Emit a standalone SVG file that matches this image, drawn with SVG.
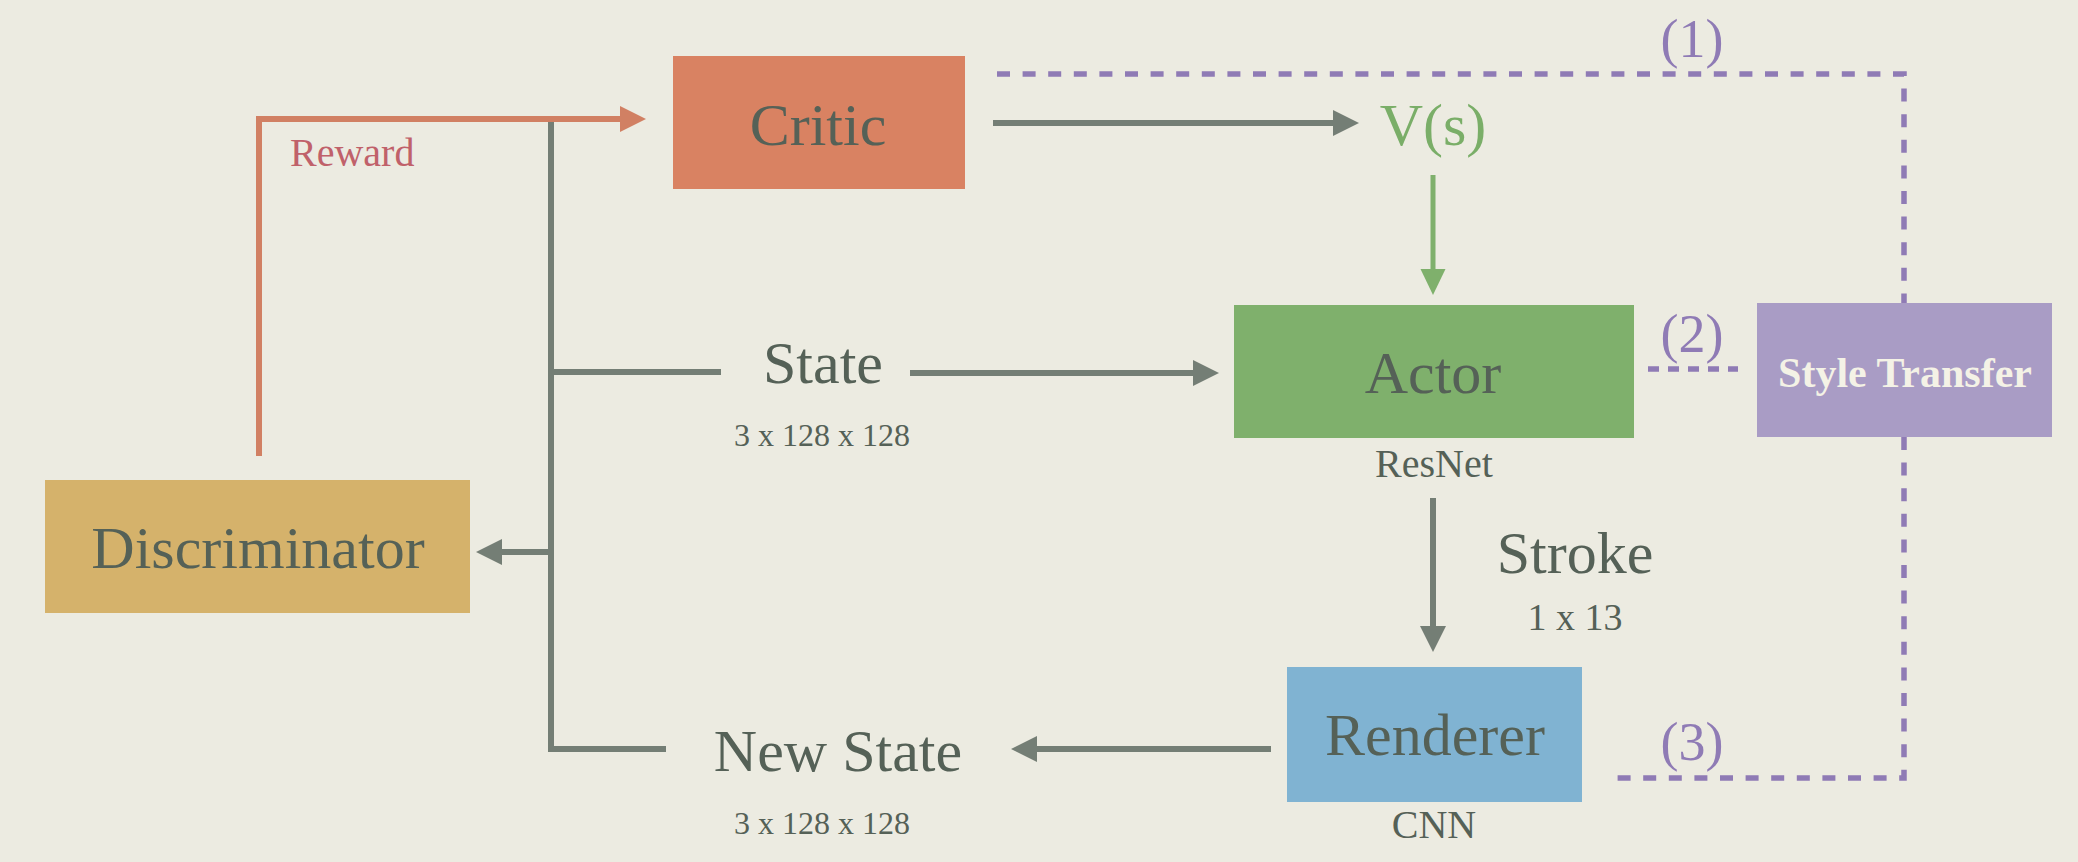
<svg xmlns="http://www.w3.org/2000/svg" width="2078" height="862" viewBox="0 0 2078 862">
  <defs>
    <style>
      .lbl { font-family: "Liberation Serif", "Times New Roman", serif; fill: #556157; text-anchor: middle; }
      .big { font-size: 60px; }
      .sm { font-size: 32px; }
      .mid { font-size: 40px; }
      .num { font-family: "Liberation Serif", "Times New Roman", serif; font-size: 54px; fill: #8f7bb5; text-anchor: middle; }
      .gray { fill: none; stroke: #747e75; stroke-width: 6; }
      .orange { fill: none; stroke: #d18063; stroke-width: 6; }
      .green { fill: none; stroke: #7fb06c; stroke-width: 5; }
      .dash { fill: none; stroke: #8f7bb5; stroke-width: 5.5; stroke-dasharray: 13 12.6; }
    </style>
    <marker id="ahGray" markerUnits="userSpaceOnUse" markerWidth="26" markerHeight="26" refX="1" refY="13" orient="auto" viewBox="0 0 26 26">
      <path d="M0,0 L26,13 L0,26 z" fill="#747e75"/>
    </marker>
    <marker id="ahOrange" markerUnits="userSpaceOnUse" markerWidth="26" markerHeight="26" refX="1" refY="13" orient="auto" viewBox="0 0 26 26">
      <path d="M0,0 L26,13 L0,26 z" fill="#d18063"/>
    </marker>
    <marker id="ahGreen" markerUnits="userSpaceOnUse" markerWidth="26" markerHeight="26" refX="1" refY="13" orient="auto" viewBox="0 0 26 26">
      <path d="M0,0.5 L26,13 L0,25.5 z" fill="#7fb06c"/>
    </marker>
  </defs>

  <rect x="0" y="0" width="2078" height="862" fill="#ecebe1"/>

  <g id="connectors">
    <path class="orange" d="M259 456 V119 H621" marker-end="url(#ahOrange)"/>
    <path class="gray" d="M551 122 V749 H666"/>
    <path class="gray" d="M551 372 H721"/>
    <path class="gray" d="M910 373 H1194" marker-end="url(#ahGray)"/>
    <path class="gray" d="M551 552 H501" marker-end="url(#ahGray)"/>
    <path class="gray" d="M1271 749 H1036" marker-end="url(#ahGray)"/>
    <path class="gray" d="M993 123 H1334" marker-end="url(#ahGray)"/>
    <path class="green" d="M1433 175 V270" marker-end="url(#ahGreen)"/>
    <path class="gray" d="M1433 498 V627" marker-end="url(#ahGray)"/>
    <path class="dash" d="M997 74 H1904 V303"/>
    <path class="dash" d="M1648 369 H1738" style="stroke-dasharray: 11 9;"/>
    <path class="dash" d="M1904 437 V778 H1614"/>
  </g>

  <g id="critic">
    <rect x="673" y="56" width="292" height="133" fill="#d98262"/>
    <text class="lbl big" x="818" y="145">Critic</text>
  </g>

  <g id="discriminator">
    <rect x="45" y="480" width="425" height="133" fill="#d5b26b"/>
    <text class="lbl big" x="258" y="568">Discriminator</text>
  </g>

  <g id="actor">
    <rect x="1234" y="305" width="400" height="133" fill="#7fb06c"/>
    <text class="lbl big" x="1433" y="393">Actor</text>
    <text class="lbl mid" x="1434" y="477">ResNet</text>
  </g>

  <g id="style-transfer">
    <rect x="1757" y="303" width="295" height="134" fill="#a99cc5"/>
    <text x="1905" y="387" style="font-family: 'Liberation Serif', 'Times New Roman', serif; font-size: 42px; font-weight: bold; fill: #f4f2e6; text-anchor: middle;">Style Transfer</text>
  </g>

  <g id="renderer">
    <rect x="1287" y="667" width="295" height="135" fill="#80b3d2"/>
    <text class="lbl big" x="1435" y="755">Renderer</text>
    <text class="lbl mid" x="1434" y="838">CNN</text>
  </g>

  <g id="value">
    <text class="lbl big" x="1433" y="145" style="fill:#7aae68;">V(s)</text>
  </g>

  <g id="state">
    <text class="lbl big" x="823" y="383">State</text>
    <text class="lbl sm" x="822" y="446">3 x 128 x 128</text>
  </g>

  <g id="new-state">
    <text class="lbl big" x="838" y="771">New State</text>
    <text class="lbl sm" x="822" y="834">3 x 128 x 128</text>
  </g>

  <g id="stroke">
    <text class="lbl big" x="1575" y="573">Stroke</text>
    <text class="lbl" x="1575" y="630" style="font-size:38px;">1 x 13</text>
  </g>

  <g id="reward">
    <text x="290" y="166" style="font-family: 'Liberation Serif', 'Times New Roman', serif; font-size: 40px; fill: #c0616a;">Reward</text>
  </g>

  <g id="labels">
    <text class="num" x="1692" y="57">(1)</text>
    <text class="num" x="1692" y="352">(2)</text>
    <text class="num" x="1692" y="760">(3)</text>
  </g>
</svg>
